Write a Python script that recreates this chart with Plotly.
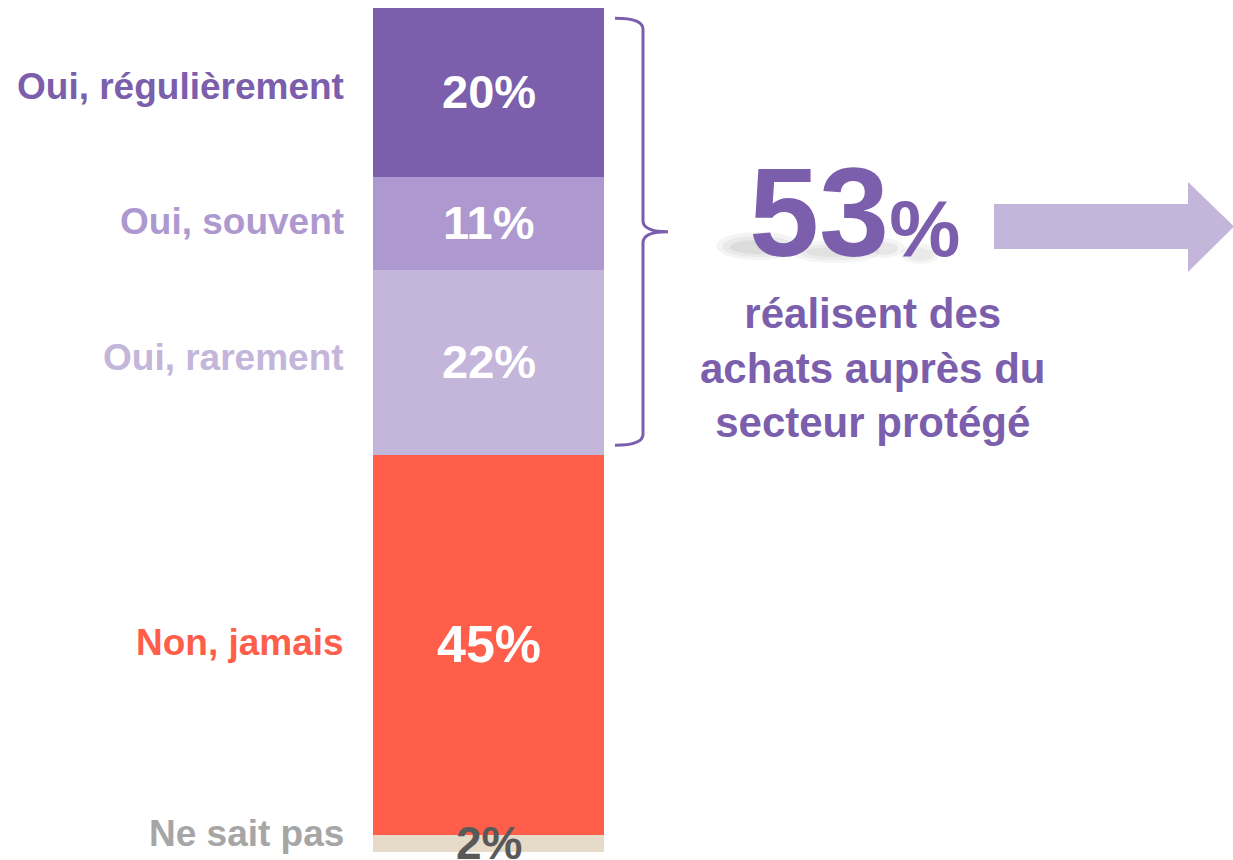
import plotly.graph_objects as go

# ---- data ----
categories = ["Oui, régulièrement", "Oui, souvent", "Oui, rarement", "Non, jamais", "Ne sait pas"]
values = [20, 11, 22, 45, 2]
pct_labels = ["20%", "11%", "22%", "45%", "2%"]
oui_categories = ["Oui, régulièrement", "Oui, souvent", "Oui, rarement"]
summary_lines = ["réalisent des", "achats auprès du", "secteur protégé"]

# ---- styles ----
bar_colors = {"Oui, régulièrement": "#7B5EAC", "Oui, souvent": "#AD99CF", "Oui, rarement": "#C4B5DB",
              "Non, jamais": "#FF5E4A", "Ne sait pas": "#E6DBC8"}
label_colors = {"Oui, régulièrement": "#7B5EAC", "Oui, souvent": "#AD99CF", "Oui, rarement": "#C4B5DB",
                "Non, jamais": "#FF5E4A", "Ne sait pas": "#A6A6A6"}
pct_colors = {"Ne sait pas": "#595959"}
pct_sizes = {"Non, jamais": 52, "Ne sait pas": 46}
label_shift = {"Oui, régulièrement": 6, "Oui, souvent": 2, "Oui, rarement": 5, "Non, jamais": 3, "Ne sait pas": 10}
FONT = "Liberation Sans, Arial, sans-serif"
PURPLE = "#7B5EAC"

W, H = 1233, 860
def px(x):
    return x / W
def py(y):
    return (H - y) / H

fig = go.Figure()
# stack from bottom
order = list(reversed(categories))
val = dict(zip(categories, values))
for c in order:
    fig.add_trace(go.Bar(x=["q"], y=[val[c]], name=c, marker=dict(color=bar_colors[c], line=dict(width=0)),
                         hoverinfo="name+y"))

annotations = []
cum = 0
mids = {}
for c in order:
    mids[c] = cum + val[c] / 2
    cum += val[c]

for c, p in zip(categories, pct_labels):
    annotations.append(dict(x="q", xref="x", y=mids[c], yref="y", text=f"<b>{p}</b>", showarrow=False,
                            xanchor="center", yanchor="middle", yshift=1,
                            font=dict(family=FONT, size=pct_sizes.get(c, 47), color=pct_colors.get(c, "white"))))
    annotations.append(dict(x=px(346), xref="paper", y=mids[c], yref="y", text=f"<b>{c}</b>", showarrow=False,
                            xanchor="right", yanchor="middle", yshift=label_shift[c],
                            font=dict(family=FONT, size=37, color=label_colors[c])))

oui_total = sum(val[c] for c in oui_categories)
annotations.append(dict(x=px(854), xref="paper", y=py(212), yref="paper",
                        text=f"<b>{oui_total}<span style='font-size:80px'>%</span></b>",
                        showarrow=False, xanchor="center", yanchor="middle",
                        font=dict(family=FONT, size=126, color=PURPLE)))
annotations.append(dict(x=px(872), xref="paper", y=py(368), yref="paper",
                        text="<b>" + "<br>".join(summary_lines) + "</b>",
                        showarrow=False, xanchor="center", yanchor="middle", align="center",
                        font=dict(family=FONT, size=42, color=PURPLE)))

shapes = []
# blurred reflection under the big number
blobs = [(716, 232, 800, 260, 0.06), (722, 236, 794, 257, 0.06), (730, 240, 785, 254, 0.07),
         (790, 240, 880, 263, 0.05), (798, 244, 872, 260, 0.05), (806, 247, 864, 257, 0.06),
         (860, 238, 905, 258, 0.05), (870, 242, 898, 255, 0.07),
         (900, 244, 940, 264, 0.05), (906, 248, 934, 261, 0.06)]
for (x0, y0, x1, y1, op) in blobs:
    shapes.append(dict(type="circle", xref="paper", yref="paper", x0=px(x0), x1=px(x1), y0=py(y1), y1=py(y0),
                       fillcolor=f"rgba(60,60,60,{op})", line=dict(width=0), layer="below"))

# bracket spanning the "Oui" segments (data y)
oui_bottom = val["Ne sait pas"] + val["Non, jamais"]
oui_top = oui_bottom + oui_total
mid = (oui_bottom + oui_top) / 2
inset = 1.2
top = oui_top - inset
bot = oui_bottom + inset
xl, xv, xt = px(615), px(643), px(668)
d = 1.3
path = (f"M {xl},{top} Q {xv},{top} {xv},{top-d} L {xv},{mid+d} Q {xv},{mid} {xt},{mid} "
        f"Q {xv},{mid} {xv},{mid-d} L {xv},{bot+d} Q {xv},{bot} {xl},{bot}")
shapes.append(dict(type="path", xref="paper", yref="y", path=path, line=dict(color=PURPLE, width=3)))

# arrow
ax0, ax1, atip = 994, 1188, 1234
by0, by1 = 204, 249
hy0, hy1 = 182, 272
amid = (by0 + by1) / 2
apath = (f"M {px(ax0)},{py(by0)} L {px(ax1)},{py(by0)} L {px(ax1)},{py(hy0)} L {px(atip)},{py(amid)} "
         f"L {px(ax1)},{py(hy1)} L {px(ax1)},{py(by1)} L {px(ax0)},{py(by1)} Z")
shapes.append(dict(type="path", xref="paper", yref="paper", path=apath, fillcolor="#C4B5DB", line=dict(width=0)))

fig.update_layout(
    width=W, height=H, margin=dict(l=0, r=0, t=0, b=0),
    barmode="stack", bargap=0, showlegend=False,
    plot_bgcolor="white", paper_bgcolor="white",
    xaxis=dict(domain=[px(373), px(604)], showticklabels=False, showgrid=False, zeroline=False, fixedrange=True),
    yaxis=dict(domain=[py(852), py(8)], range=[0, 100], showticklabels=False, showgrid=False, zeroline=False,
               fixedrange=True),
    annotations=annotations, shapes=shapes,
)
fig.write_html("out.html", config={"displayModeBar": False},
               post_script="document.body.style.margin='0';document.body.style.overflow='hidden';")
